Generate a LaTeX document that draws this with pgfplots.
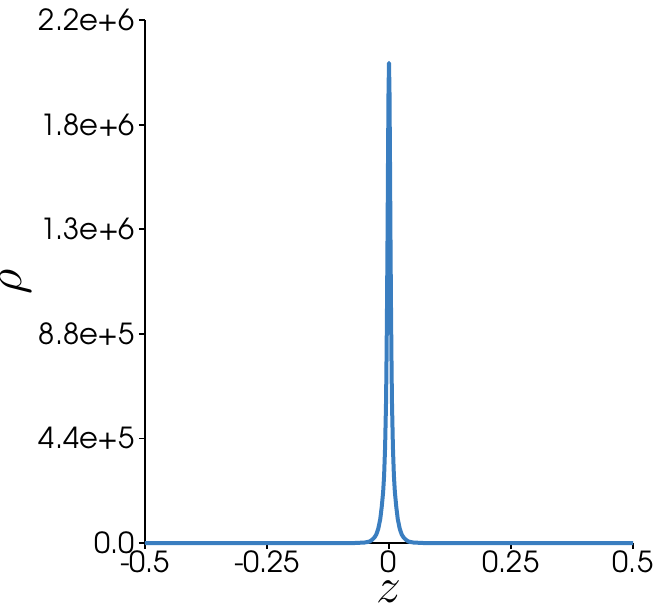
\documentclass[border=0pt]{standalone}
\usepackage{fontspec}
\setmainfont{TeX Gyre Adventor}
\usepackage{pgfplots}
\pgfplotsset{compat=1.18}
\definecolor{linblue}{RGB}{58,126,192}
\begin{document}
\begin{tikzpicture}
\begin{axis}[
  scale only axis,
  width=244pt, height=261.5pt,
  xmin=-0.5, xmax=0.5, ymin=0, ymax=2.2e6,
  axis x line=bottom, axis y line=left,
  axis line style={-, line width=1pt, black},
  tick align=outside,
  major tick length=3pt,
  tick style={black, line width=0.9pt},
  scaled y ticks=false, scaled x ticks=false,
  xtick={-0.5,-0.25,0,0.25,0.5},
  xticklabels={-0.5,-0.25,0,0.25,0.5},
  ytick={0,4.4e5,8.8e5,1.32e6,1.76e6,2.2e6},
  yticklabels={0.0,4.4e+5,8.8e+5,1.3e+6,1.8e+6,2.2e+6},
  /pgf/number format/assume math mode=true,
  ticklabel style={font=\fontsize{14.5}{16}\selectfont},
  xticklabel style={yshift=2.5pt},
  yticklabel style={xshift=1.5pt},
  xlabel={$z$}, ylabel={$\rho$},
  label style={font=\fontsize{23}{27}\selectfont},
  xlabel style={yshift=3pt},
  ylabel style={yshift=-3pt},
  clip=false,
]
\addplot[linblue, line width=2pt, line join=round] coordinates {
(-0.5,0) (-0.2,0) (-0.1,0) (-0.07,0) (-0.05,2000) (-0.04,6000) (-0.035,13000)
(-0.03,23000) (-0.026,36000) (-0.022,60000) (-0.018,100000) (-0.015,150000)
(-0.012,215000) (-0.01,285000) (-0.008,404000) (-0.006,600000) (-0.005,788000)
(-0.004,1010000) (-0.003,1293000) (-0.002,1616000) (-0.001,1900000) (0,2020000)
(0.001,1900000) (0.002,1616000) (0.003,1293000) (0.004,1010000) (0.005,788000)
(0.006,600000) (0.008,404000) (0.01,285000) (0.012,215000) (0.015,150000)
(0.018,100000) (0.022,60000) (0.026,36000) (0.03,23000) (0.035,13000)
(0.04,6000) (0.05,2000) (0.07,0) (0.1,0) (0.2,0) (0.5,0)
};
\end{axis}
\pgfresetboundingbox
\path (-72.5pt,-34.5pt) rectangle (254pt,271.5pt);
\end{tikzpicture}
\end{document}
